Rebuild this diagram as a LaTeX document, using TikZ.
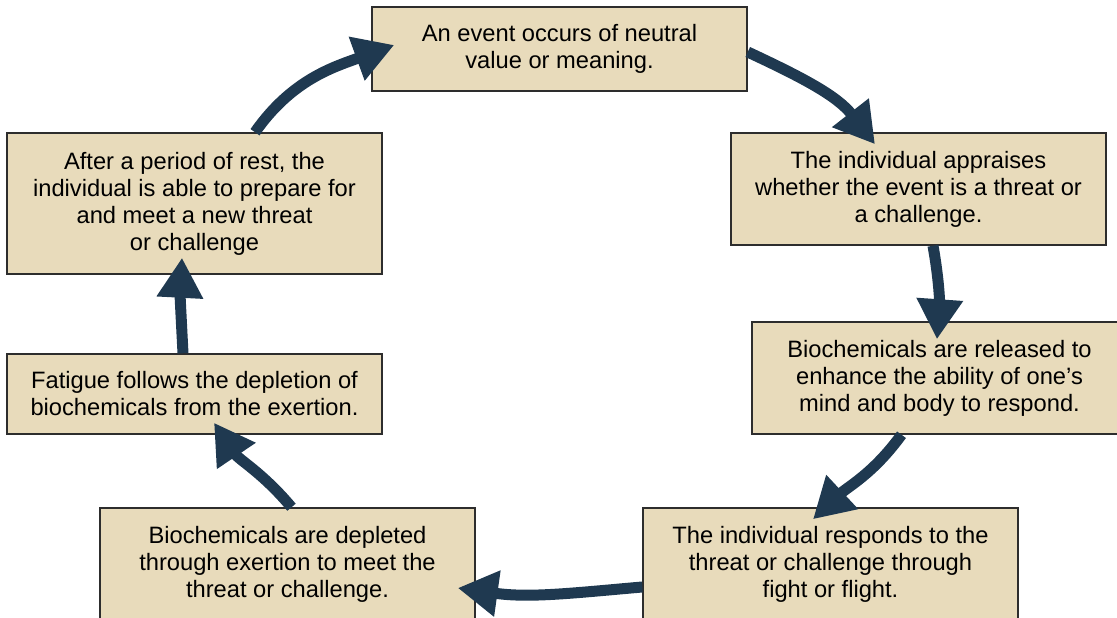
\documentclass[tikz,border=0pt]{standalone}
\usepackage{fontspec}
\setmainfont{Liberation Sans}
\usetikzlibrary{arrows.meta}
\definecolor{boxfill}{RGB}{232,219,187}
\definecolor{boxline}{RGB}{45,45,45}
\definecolor{flow}{RGB}{31,57,80}
\begin{document}
\begin{tikzpicture}[x=1pt,y=1pt,
  stage/.style={draw=boxline, line width=1.5pt, fill=boxfill, minimum width=375pt,
    inner sep=0pt, align=center, text=black,
    font=\fontsize{23.7}{27}\selectfont},
  cycle/.style={draw=flow, line width=11pt,
    -{Triangle[length=40pt,width=44pt]}}]
\useasboundingbox (0,0) rectangle (1117,618);
\clip (0,0) rectangle (1117,618);

% the seven stages of the cycle
\node[stage, minimum height=84pt]  (ev)   at (559.5,569) {An event occurs of neutral\\value or meaning.};
\node[stage, minimum height=112pt] (ap)   at (918.5,429) {The individual appraises\\whether the event is a threat or\\a challenge.};
\node[stage, minimum height=112pt] (bio)  at (939.5,240) {Biochemicals are released to\\enhance the ability of one’s\\mind and body to respond.};
\node[stage, minimum height=112pt] (resp) at (830.5,54)  {The individual responds to the\\threat or challenge through\\fight or flight.};
\node[stage, minimum height=112pt] (dep)  at (287.5,54)  {Biochemicals are depleted\\through exertion to meet the\\threat or challenge.};
\node[stage, minimum height=80pt]  (fat)  at (194.5,224) {Fatigue follows the depletion of\\biochemicals from the exertion.};
\node[stage, minimum height=141pt] (rest) at (194.5,414.5) {After a period of rest, the\\individual is able to prepare for\\and meet a new threat\\or challenge};

% curved arrows running clockwise round the cycle
\draw[cycle] ([xshift=60.5pt]rest.north) to[out=55,in=200] ([xshift=23pt,yshift=4pt]ev.west);
\draw[cycle] ([yshift=-3pt]ev.east) to[out=-25,in=128] ([xshift=-43.5pt,yshift=-12pt]ap.north);
\draw[cycle] ([xshift=14.5pt]ap.south) to[out=-80,in=86] ([xshift=-2.5pt,yshift=-18pt]bio.north);
\draw[cycle] ([xshift=-38pt]bio.south) to[out=-126,in=43] ([xshift=-17.5pt,yshift=-12pt]resp.north);
\draw[cycle] ([yshift=-23pt]resp.west) to[out=185,in=-8] ([xshift=-18pt,yshift=-24pt]dep.east);
\draw[cycle] ([xshift=4pt]dep.north) to[out=130,in=-56] ([xshift=19.5pt,yshift=12pt]fat.south);
\draw[cycle] ([xshift=-11.5pt]fat.north) to[out=93,in=-93] ([xshift=-12.5pt,yshift=17pt]rest.south);
\end{tikzpicture}
\end{document}
